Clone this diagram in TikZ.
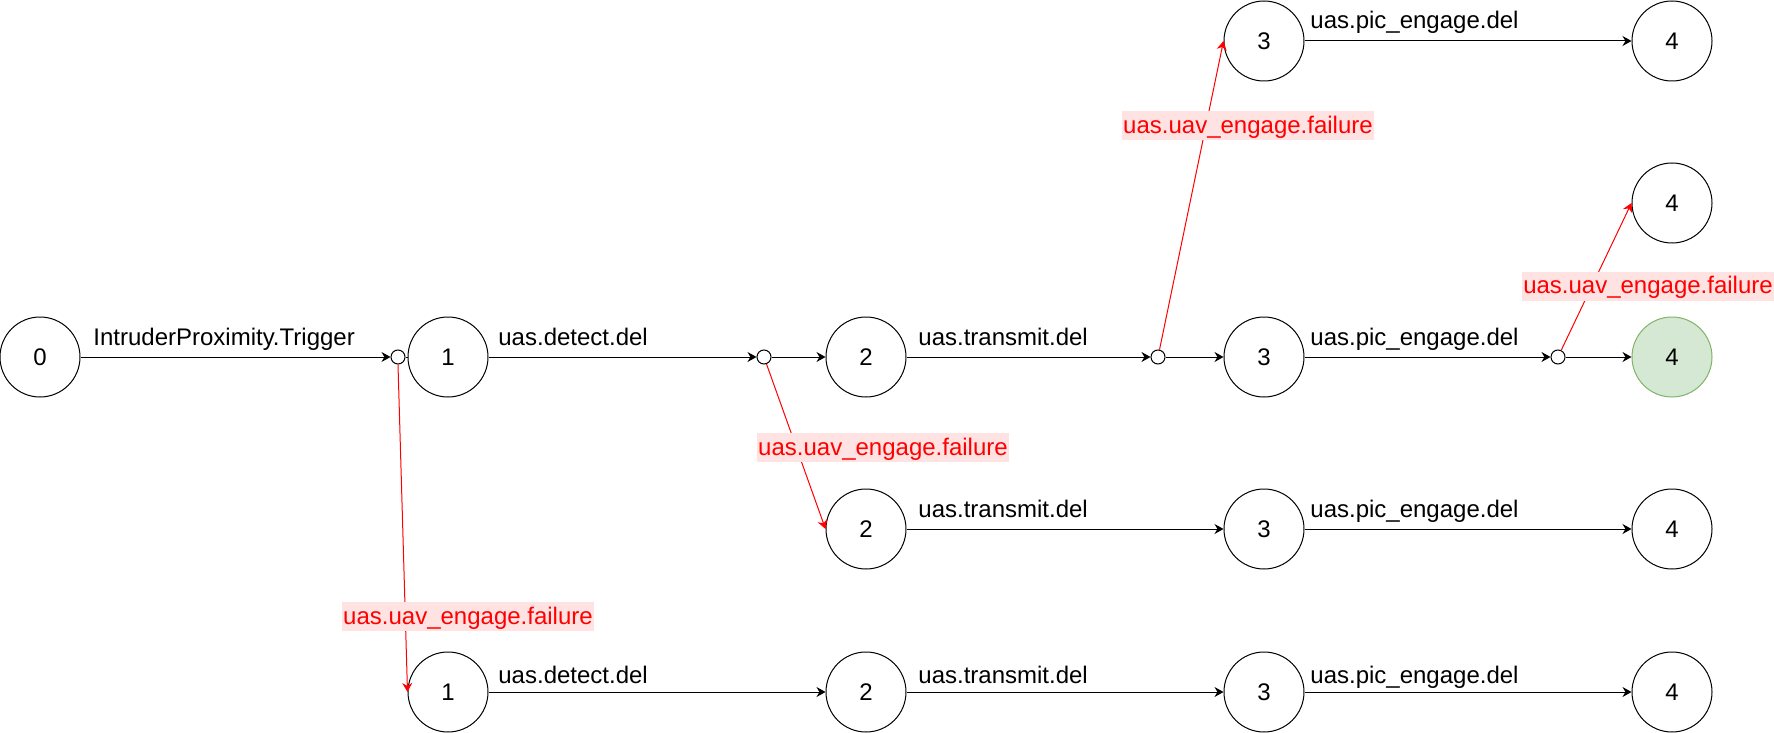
\documentclass[tikz,border=0pt]{standalone}
\usepackage{fontspec}
\setmainfont{Liberation Sans}
\usetikzlibrary{arrows.meta}
\definecolor{lblbg}{HTML}{FFE2E2}
\definecolor{gfill}{HTML}{D5E8D4}
\definecolor{gdraw}{HTML}{82B366}
\begin{document}
\begin{tikzpicture}[x=0.5pt,y=-0.5pt,
  state/.style={circle,draw,line width=0.5pt,minimum size=40pt,inner sep=0pt,font=\fontsize{12}{14}\selectfont},
  junc/.style={circle,draw,line width=0.5pt,minimum size=7pt,inner sep=0pt,fill=white},
  tr/.style={line width=0.5pt,-{Stealth[length=4.5pt,width=5pt]}},
  fail/.style={tr,red},
  lbl/.style={anchor=base west,inner sep=0pt,font=\fontsize{12}{14}\selectfont},
  flbl/.style={fill=lblbg,text=red,inner xsep=0.6pt,inner ysep=0.5pt,text height=10.5pt,text depth=3pt,font=\fontsize{12}{14}\selectfont}]
\useasboundingbox (0,0) rectangle (1774,733);
% main row
\node[state] (a0) at (40,357) {0};
\node[junc] (j1) at (398,357) {};
\node[state] (a1) at (448,357) {1};
\node[junc] (j2) at (764,357) {};
\node[state] (a2) at (866,357) {2};
\node[junc] (j3) at (1158,357) {};
\node[state] (a3) at (1264,357) {3};
\node[junc] (j4) at (1558,357) {};
\node[state,fill=gfill,draw=gdraw] (a4) at (1672,357) {4};
% top rows
\node[state] (t3) at (1264,41) {3};
\node[state] (t4) at (1672,41) {4};
\node[state] (u4) at (1672,203) {4};
% lower rows
\node[state] (m2) at (866,529) {2};
\node[state] (m3) at (1264,529) {3};
\node[state] (m4) at (1672,529) {4};
\node[state] (b1) at (448,692) {1};
\node[state] (b2) at (866,692) {2};
\node[state] (b3) at (1264,692) {3};
\node[state] (b4) at (1672,692) {4};
% black transitions
\draw[tr] (a0) -- (j1);
\draw[line width=0.5pt] (j1) -- (a1);
\draw[tr] (a1) -- (j2);
\draw[tr] (j2) -- (a2);
\draw[tr] (a2) -- (j3);
\draw[tr] (j3) -- (a3);
\draw[tr] (a3) -- (j4);
\draw[tr] (j4) -- (a4);
\draw[tr] (t3) -- (t4);
\draw[tr] (m2) -- (m3);
\draw[tr] (m3) -- (m4);
\draw[tr] (b1) -- (b2);
\draw[tr] (b2) -- (b3);
\draw[tr] (b3) -- (b4);
% failure transitions
\draw[fail] (j1.south) -- (b1.west);
\draw[fail] (j2) -- (m2.west);
\draw[fail] (j3) -- (t3.west);
\draw[fail] (j4) -- (u4.west);
% black labels
\node[lbl] (l01) at (93,345) {IntruderProximity.Trigger};
\node[lbl] (l12) at (498,345) {uas.detect.del};
\node[lbl] (l23) at (918,345) {uas.transmit.del};
\node[lbl] (l34) at (1310,345) {uas.pic\_engage.del};
\node[lbl] (lt34) at (1310,29) {uas.pic\_engage.del};
\node[lbl] (lm23) at (918,517) {uas.transmit.del};
\node[lbl] (lm34) at (1310,517) {uas.pic\_engage.del};
\node[lbl] (lb12) at (498,683) {uas.detect.del};
\node[lbl] (lb23) at (918,683) {uas.transmit.del};
\node[lbl] (lb34) at (1310,683) {uas.pic\_engage.del};
% failure labels
\node[flbl] (f1) at (468,616.5) {uas.uav\_engage.failure};
\node[flbl] (f2) at (883,447.5) {uas.uav\_engage.failure};
\node[flbl] (f3) at (1248,126) {uas.uav\_engage.failure};
\node[flbl] (f4) at (1648,286) {uas.uav\_engage.failure};
\end{tikzpicture}
\end{document}
